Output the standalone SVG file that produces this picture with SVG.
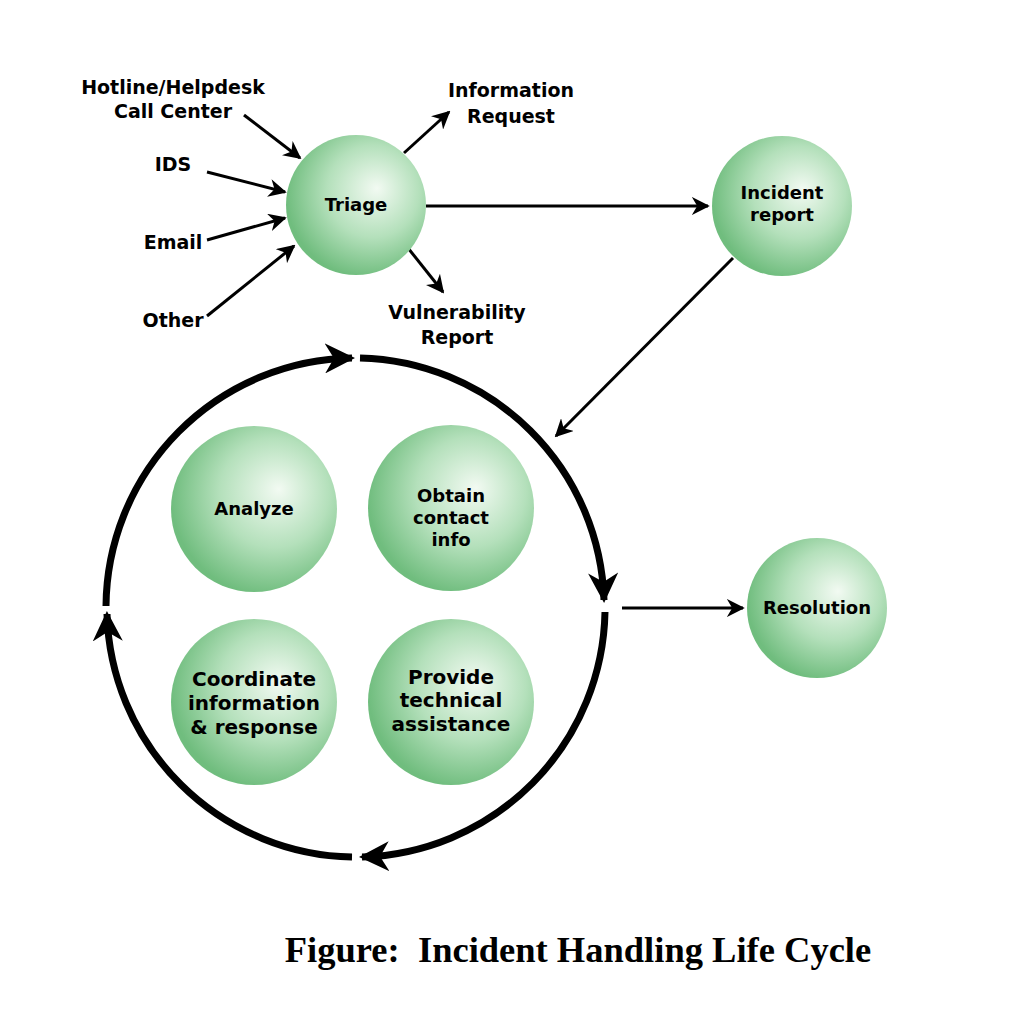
<svg xmlns="http://www.w3.org/2000/svg" width="1012" height="1032" viewBox="0 0 1012 1032">
<style>
.n{fill:url(#g)}
.t{font-family:"DejaVu Sans",sans-serif;font-weight:bold;font-size:19px;text-anchor:middle;fill:#000}
.c{stroke:#000;stroke-width:3;fill:none;marker-end:url(#a)}
.k{stroke:#000;stroke-width:7;fill:none;marker-end:url(#b)}
</style>
<defs>
<radialGradient id="g" cx="0.6" cy="0.42" r="0.6" fx="0.65" fy="0.38">
<stop offset="0" stop-color="#f2faf2"/>
<stop offset="0.55" stop-color="#b4e0bb"/>
<stop offset="1" stop-color="#70bd7e"/>
</radialGradient>
<marker id="a" viewBox="0 0 10 10" refX="9" refY="5" markerWidth="6" markerHeight="6" orient="auto" markerUnits="strokeWidth"><path d="M0,0 L10,5 L0,10 L3,5 Z" fill="#000"/></marker>
<marker id="b" viewBox="0 0 10 10" refX="9" refY="5" markerWidth="4.3" markerHeight="4.3" orient="auto" markerUnits="strokeWidth"><path d="M0,0 L10,5 L0,10 L3,5 Z" fill="#000"/></marker>
</defs>
<rect width="1012" height="1032" fill="#fff"/>
<g id="connectors">
<line class="c" x1="244" y1="115" x2="300" y2="158"/>
<line class="c" x1="207" y1="172" x2="285" y2="192"/>
<line class="c" x1="207" y1="240" x2="285" y2="218"/>
<line class="c" x1="207" y1="316" x2="294" y2="246"/>
<line class="c" x1="404" y1="153" x2="449" y2="112"/>
<line class="c" x1="408" y1="248" x2="443" y2="292"/>
<line class="c" x1="426" y1="206" x2="708" y2="206"/>
<line class="c" x1="733" y1="258" x2="556" y2="436"/>
<line class="c" x1="622" y1="608" x2="743" y2="608"/>
<path class="k" d="M106,606 A250,250 0 0 1 352,358"/>
<path class="k" d="M360,358 A250,250 0 0 1 604,600"/>
<path class="k" d="M605,612 A250,250 0 0 1 362,857"/>
<path class="k" d="M352,857 A250,250 0 0 1 107,614"/>
</g>
<g id="triage"><circle class="n" cx="356" cy="205" r="70"/><text class="t" x="356" y="211" style="font-size:18px">Triage</text></g>
<g id="incident"><circle class="n" cx="782" cy="206" r="70"/><text class="t" x="782" y="199" style="font-size:18px">Incident</text><text class="t" x="782" y="221" style="font-size:18px">report</text></g>
<g id="analyze"><circle class="n" cx="254" cy="509" r="83"/><text class="t" x="254" y="515" style="font-size:18px">Analyze</text></g>
<g id="obtain"><circle class="n" cx="451" cy="508" r="83"/><text class="t" x="451" y="502" style="font-size:18px">Obtain</text><text class="t" x="451" y="524" style="font-size:18px">contact</text><text class="t" x="451" y="546" style="font-size:18px">info</text></g>
<g id="coordinate"><circle class="n" cx="254" cy="702" r="83"/><text class="t" x="254" y="686" style="font-size:20px">Coordinate</text><text class="t" x="254" y="710" style="font-size:20px">information</text><text class="t" x="254" y="734" style="font-size:20px">&amp; response</text></g>
<g id="provide"><circle class="n" cx="451" cy="702" r="83"/><text class="t" x="451" y="684" style="font-size:20px">Provide</text><text class="t" x="451" y="707" style="font-size:20px">technical</text><text class="t" x="451" y="731" style="font-size:20px">assistance</text></g>
<g id="resolution"><circle class="n" cx="817" cy="608" r="70"/><text class="t" x="817" y="614" style="font-size:18px">Resolution</text></g>
<g id="labels">
<text class="t" x="173" y="94">Hotline/Helpdesk</text>
<text class="t" x="173" y="118">Call Center</text>
<text class="t" x="173" y="171">IDS</text>
<text class="t" x="173" y="249">Email</text>
<text class="t" x="173" y="327">Other</text>
<text class="t" x="511" y="97">Information</text>
<text class="t" x="511" y="123">Request</text>
<text class="t" x="457" y="319">Vulnerability</text>
<text class="t" x="457" y="344">Report</text>
<text x="578" y="962" xml:space="preserve" style="font-family:'Liberation Serif',serif;font-weight:bold;font-size:36.5px;text-anchor:middle;white-space:pre">Figure:  Incident Handling Life Cycle</text>
</g>
</svg>
